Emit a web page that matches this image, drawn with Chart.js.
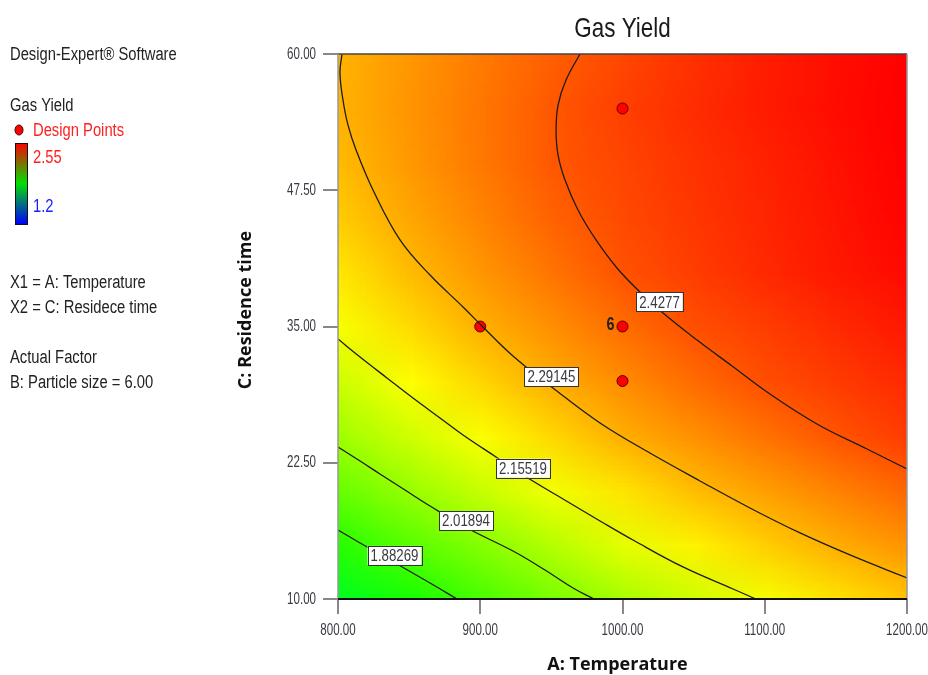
<!DOCTYPE html>
<html>
<head>
<meta charset="utf-8">
<script src="https://cdn.jsdelivr.net/npm/chart.js@4.4.1/dist/chart.umd.min.js"></script>
<style>
  html, body { margin: 0; padding: 0; background: #fff; }
  #wrap { width: 928px; height: 675px; position: relative; }
</style>
</head>
<body>
<div id="wrap"><canvas id="grafico" width="928" height="675"></canvas></div>
<script>
// Eixos
const xTicks = [800, 900, 1000, 1100, 1200];
const yTicks = [10, 22.5, 35, 47.5, 60];

// Grade da superficie
const tempGrid = [800, 850, 900, 950, 1000, 1050, 1100, 1150, 1200];
const timeGrid = [10, 15, 20, 25, 30, 35, 40, 45, 50, 55, 60];
const yieldGrid = [
  [1.750, 1.830, 1.905, 1.977, 2.045, 2.104, 2.163, 2.215, 2.260], // 10
  [1.858, 1.929, 1.996, 2.066, 2.138, 2.194, 2.245, 2.295, 2.333], // 15
  [1.950, 2.024, 2.091, 2.158, 2.214, 2.272, 2.318, 2.359, 2.400], // 20
  [2.035, 2.104, 2.171, 2.233, 2.294, 2.338, 2.382, 2.426, 2.463], // 25
  [2.100, 2.174, 2.236, 2.296, 2.344, 2.392, 2.435, 2.463, 2.490], // 30
  [2.165, 2.228, 2.291, 2.340, 2.389, 2.434, 2.461, 2.488, 2.515], // 35
  [2.210, 2.275, 2.329, 2.380, 2.429, 2.460, 2.490, 2.515, 2.535], // 40
  [2.250, 2.306, 2.356, 2.406, 2.442, 2.470, 2.495, 2.520, 2.545], // 45
  [2.275, 2.326, 2.373, 2.421, 2.449, 2.476, 2.500, 2.525, 2.550], // 50
  [2.288, 2.333, 2.377, 2.422, 2.458, 2.485, 2.510, 2.532, 2.550], // 55
  [2.287, 2.330, 2.370, 2.410, 2.447, 2.480, 2.507, 2.530, 2.548]  // 60
];
const yieldMin = 1.2;
const yieldMax = 2.55;

// Curvas de nivel
const contourLevels = ['1.88269', '2.01894', '2.15519', '2.29145', '2.4277'];
const contour1 = [[800,16.33],[815.5,15.14],[829.5,14.13],[841.5,13.21],[864.7,11.47],[883.7,10]];
const contour2 = [[800,23.94],[815.5,22.66],[829.5,21.47],[847.1,20.0],[864.7,18.53],[890.7,16.51],[923,14.4],[945.5,12.66],[965.2,11.01],[980,10]];
const contour3 = [[800,33.85],[815.5,32.2],[834.4,30.28],[852.7,28.44],[871.7,26.61],[887.9,25.05],[911.1,23.03],[930.1,21.38],[958.2,19.17],[984.2,17.16],[1007.4,15.41],[1042.5,12.94],[1077.7,10.92],[1093.8,10]];
const contour4 = [[802.8,60],[801.4,58.26],[803.5,55.78],[807,53.49],[812.7,51.19],[824.6,47.52],[843.6,42.94],[864.7,39.72],[887.9,36.79],[900.5,35.14],[923,32.29],[951.1,29.36],[984.2,26.15],[1019.3,23.39],[1054.5,20.83],[1089.6,18.35],[1124.8,16.06],[1159.9,14.04],[1200,11.93]];
const contour5 = [[970.1,60],[960.3,57.61],[954.7,55.32],[953.3,53.03],[954.7,50.73],[959.6,48.44],[968.7,45.69],[981.4,42.94],[996.1,40.37],[1012.3,38.17],[1028.5,36.24],[1052.4,33.76],[1077,31.38],[1101.6,28.99],[1136.7,26.06],[1171.9,23.76],[1200,21.93]];
const labelTemp = [839.7, 890, 930, 950, 1026];
const labelTime = [14.0, 17.2, 22.0, 30.4, 37.25];

// Pontos do planejamento
const designTemp = [1000, 900, 1000, 1000];
const designTime = [55, 35, 35, 30];
const designReps = [1, 1, 6, 1];

const SANS = '"Liberation Sans", Arial, sans-serif';

// texto "condensado" (imitando Arial Narrow)
function textoEstreito(ctx, txt, x, y, align, sx) {
  ctx.save();
  ctx.translate(x, y);
  ctx.scale(sx, 1);
  ctx.textAlign = align;
  ctx.fillText(txt, 0, 0);
  ctx.restore();
}

function corDoValor(v) {
  // vermelho (max) -> amarelo -> verde -> azul
  let t = (yieldMax - v) / 1.5;
  t = Math.max(0, Math.min(1, t));
  const h = 240 * t;
  const f = (n) => {
    const k = (n + h / 60) % 6;
    return Math.round(255 * (1 - Math.max(0, Math.min(k, 4 - k, 1))));
  };
  return [f(5), f(3), f(1)];
}

const mapaCalor = {
  id: 'mapaCalor',
  beforeDatasetsDraw(chart) {
    const { ctx, chartArea: a, scales: { x, y } } = chart;
    const nx = tempGrid.length, ny = timeGrid.length;
    const off = document.createElement('canvas');
    off.width = nx; off.height = ny;
    const octx = off.getContext('2d');
    const img = octx.createImageData(nx, ny);
    for (let j = 0; j < ny; j++) {
      const linha = yieldGrid[ny - 1 - j]; // topo = maior tempo
      for (let i = 0; i < nx; i++) {
        const c = corDoValor(linha[i]);
        const p = (j * nx + i) * 4;
        img.data[p] = c[0]; img.data[p + 1] = c[1]; img.data[p + 2] = c[2]; img.data[p + 3] = 255;
      }
    }
    octx.putImageData(img, 0, 0);
    const x0 = x.getPixelForValue(tempGrid[0]);
    const cw = (x.getPixelForValue(tempGrid[nx - 1]) - x0) / (nx - 1);
    const yTop = y.getPixelForValue(timeGrid[ny - 1]);
    const ch = (y.getPixelForValue(timeGrid[0]) - yTop) / (ny - 1);
    ctx.save();
    ctx.beginPath();
    ctx.rect(a.left, a.top, a.right - a.left, a.bottom - a.top);
    ctx.clip();
    ctx.imageSmoothingEnabled = true;
    ctx.drawImage(off, x0 - cw / 2, yTop - ch / 2, cw * nx, ch * ny);
    ctx.restore();
  },
  afterDatasetsDraw(chart) {
    const { ctx, chartArea: a, scales: { x, y } } = chart;
    ctx.save();
    ctx.textBaseline = 'middle';
    // rotulos das curvas
    ctx.font = '17px ' + SANS;
    contourLevels.forEach((txt, i) => {
      const px = x.getPixelForValue(labelTemp[i]);
      const py = y.getPixelForValue(labelTime[i]);
      const w = ctx.measureText(txt).width * 0.78 + 6;
      const h = 19;
      ctx.fillStyle = '#fff';
      ctx.fillRect(px - w / 2, py - h / 2, w, h);
      ctx.strokeStyle = '#333';
      ctx.lineWidth = 1;
      ctx.strokeRect(Math.round(px - w / 2) + 0.5, Math.round(py - h / 2) + 0.5, Math.round(w), h);
      ctx.fillStyle = '#3a3a44';
      textoEstreito(ctx, txt, px, py + 1, 'center', 0.78);
    });
    // replicas
    ctx.font = 'bold 18px ' + SANS;
    ctx.fillStyle = '#222';
    designReps.forEach((r, i) => {
      if (r > 1) textoEstreito(ctx, String(r), x.getPixelForValue(designTemp[i]) - 8, y.getPixelForValue(designTime[i]) - 1, 'right', 0.8);
    });
    // moldura
    ctx.lineWidth = 1.5;
    ctx.strokeStyle = '#444';
    ctx.beginPath(); ctx.moveTo(a.left, a.top); ctx.lineTo(a.right, a.top); ctx.stroke();
    ctx.strokeStyle = '#999';
    ctx.beginPath(); ctx.moveTo(a.right, a.top); ctx.lineTo(a.right, a.bottom); ctx.stroke();
    ctx.beginPath(); ctx.moveTo(a.left, a.top); ctx.lineTo(a.left, a.bottom); ctx.stroke();
    ctx.strokeStyle = '#111';
    ctx.lineWidth = 2;
    ctx.beginPath(); ctx.moveTo(a.left, a.bottom); ctx.lineTo(a.right, a.bottom); ctx.stroke();
    ctx.restore();
  },
  afterDraw(chart) {
    const { ctx, chartArea: a, scales: { x, y } } = chart;
    ctx.save();
    ctx.textBaseline = 'middle';
    // rotulos dos ticks
    ctx.font = '17px ' + SANS;
    ctx.fillStyle = '#3a3a44';
    xTicks.forEach(v => textoEstreito(ctx, v.toFixed(2), x.getPixelForValue(v), 630, 'center', 0.68));
    yTicks.forEach(v => textoEstreito(ctx, v.toFixed(2), a.left - 22, y.getPixelForValue(v), 'right', 0.68));
    // titulo
    ctx.fillStyle = '#1a1a1a';
    ctx.font = '28px ' + SANS;
    textoEstreito(ctx, 'Gas Yield', (a.left + a.right) / 2, 29, 'center', 0.8);
    // titulos dos eixos
    ctx.textAlign = 'center';
    ctx.font = 'bold 18px "Open Sans", sans-serif';
    ctx.fillStyle = '#111';
    ctx.fillText('A: Temperature', (a.left + a.right) / 2 - 5, 665);
    ctx.save();
    ctx.translate(246, 310);
    ctx.rotate(-Math.PI / 2);
    ctx.fillText('C: Residence time', 0, 0);
    ctx.restore();
    // painel da esquerda
    ctx.font = '18px ' + SANS;
    ctx.fillStyle = '#222';
    const sx = 0.82;
    textoEstreito(ctx, 'Design-Expert\u00ae Software', 10, 55, 'left', sx);
    textoEstreito(ctx, 'Gas Yield', 10, 106, 'left', sx);
    textoEstreito(ctx, 'X1 = A: Temperature', 10, 283, 'left', sx);
    textoEstreito(ctx, 'X2 = C: Residece time', 10, 308, 'left', sx);
    textoEstreito(ctx, 'Actual Factor', 10, 358, 'left', sx);
    textoEstreito(ctx, 'B: Particle size = 6.00', 10, 383, 'left', sx);
    ctx.beginPath();
    ctx.ellipse(19, 130, 4, 5, 0, 0, Math.PI * 2);
    ctx.fillStyle = '#ff0000';
    ctx.fill();
    ctx.strokeStyle = '#400';
    ctx.lineWidth = 1;
    ctx.stroke();
    ctx.fillStyle = '#ff2020';
    textoEstreito(ctx, 'Design Points', 33, 131, 'left', sx);
    const g = ctx.createLinearGradient(0, 143, 0, 224);
    g.addColorStop(0, '#ff0000');
    g.addColorStop(0.5, '#00e000');
    g.addColorStop(1, '#0000ff');
    ctx.fillStyle = g;
    ctx.fillRect(15, 143, 12, 81);
    ctx.strokeStyle = '#111';
    ctx.strokeRect(15.5, 143.5, 12, 81);
    ctx.fillStyle = '#ff2020';
    textoEstreito(ctx, yieldMax.toFixed(2), 33, 158, 'left', sx);
    ctx.fillStyle = '#2020ff';
    textoEstreito(ctx, String(yieldMin), 33, 207, 'left', sx);
    ctx.restore();
  }
};

const toXY = (lista) => lista.map(p => ({ x: p[0], y: p[1] }));
const curvas = [contour1, contour2, contour3, contour4, contour5].map(c => ({
  type: 'scatter',
  data: toXY(c),
  showLine: true,
  pointRadius: 0,
  borderColor: '#1c1c1c',
  borderWidth: 1.3,
  tension: 0.4,
  fill: false
}));

const pontos = {
  type: 'scatter',
  data: designTemp.map((t, i) => ({ x: t, y: designTime[i] })),
  pointRadius: 5.5,
  pointBackgroundColor: '#ff0000',
  pointBorderColor: '#5a0000',
  pointBorderWidth: 1,
  showLine: false
};

new Chart(document.getElementById('grafico'), {
  type: 'scatter',
  data: { datasets: [...curvas, pontos] },
  options: {
    responsive: false,
    animation: false,
    layout: { padding: { left: 286, right: 21, top: 54, bottom: 36 } },
    plugins: { legend: { display: false }, tooltip: { enabled: false } },
    scales: {
      x: {
        type: 'linear', min: 800, max: 1200,
        afterBuildTicks: s => { s.ticks = xTicks.map(v => ({ value: v })); },
        afterFit: s => { s.height = 40; },
        ticks: { display: false },
        grid: { drawOnChartArea: false, tickLength: 15, color: '#888', lineWidth: 2 },
        border: { display: false }
      },
      y: {
        type: 'linear', min: 10, max: 60,
        afterBuildTicks: s => { s.ticks = yTicks.map(v => ({ value: v })); },
        afterFit: s => { s.width = 52; },
        ticks: { display: false },
        grid: { drawOnChartArea: false, tickLength: 15, color: '#888', lineWidth: 2 },
        border: { display: false }
      }
    }
  },
  plugins: [mapaCalor]
});
</script>
</body>
</html>
